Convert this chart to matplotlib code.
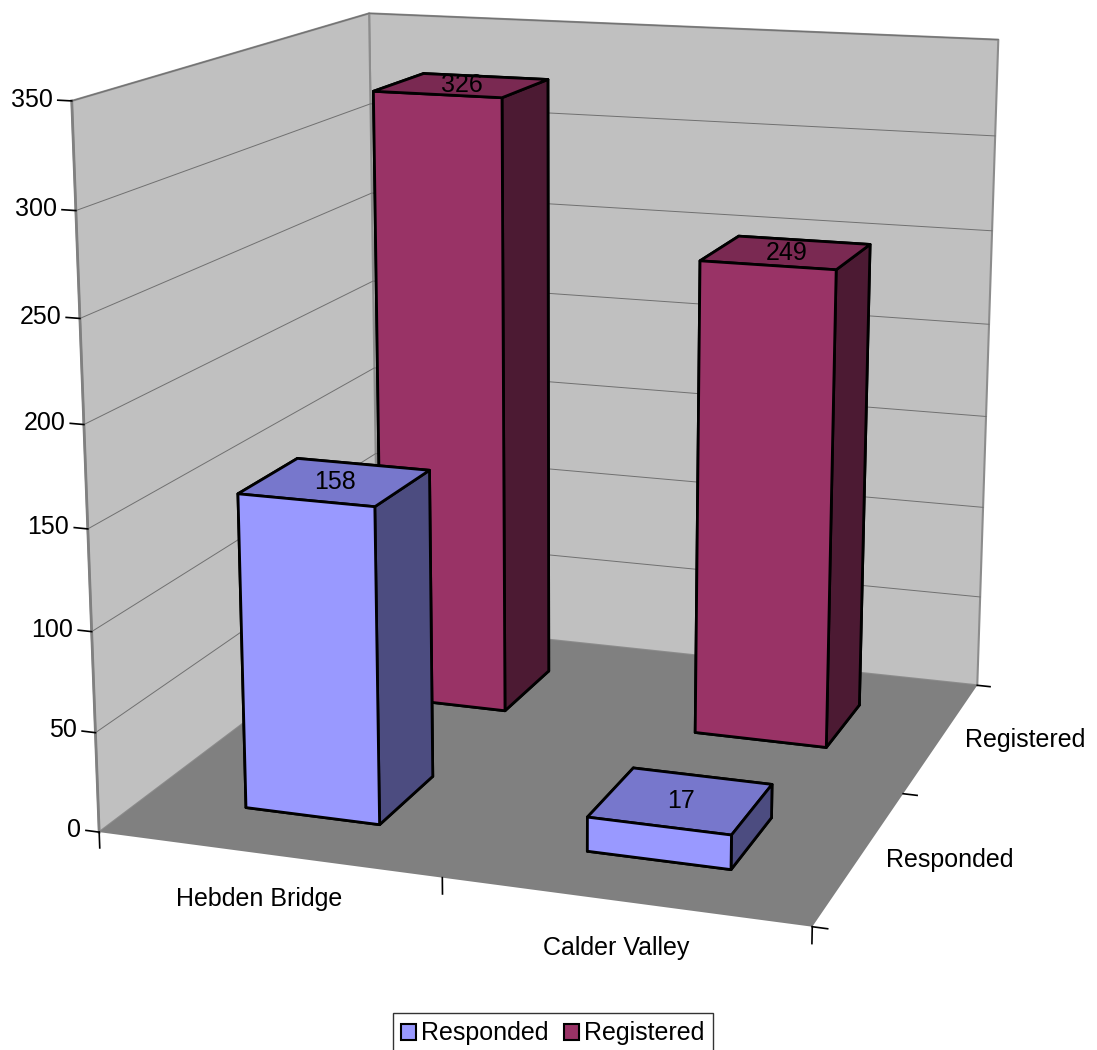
import numpy as np
import matplotlib
matplotlib.use('Agg')
import matplotlib.pyplot as plt
from matplotlib.patches import Patch
from mpl_toolkits.mplot3d.art3d import Poly3DCollection

# survey counts per area
categories = ['Hebden Bridge', 'Calder Valley']
series = ['Responded', 'Registered']
responded = [158, 17]
registered = [326, 249]
z_ticks = [0, 50, 100, 150, 200, 250, 300, 350]

plt.rcParams['font.family'] = ['Liberation Sans', 'DejaVu Sans']
fs = 18

front_cols = ['#9999ff', '#993366']
top_cols = ['#7777cc', '#7a2952']
side_cols = ['#4c4c80', '#4c1a33']

fig = plt.figure(figsize=(10.97, 10.5), dpi=100)
ax = fig.add_axes([-0.0397, 0.019, 1.083, 1.131], projection='3d')
ax.set_proj_type('persp', focal_length=0.5)
ax.view_init(elev=14, azim=-71)
ax.set_box_aspect((1, 1, 1))
ax.computed_zorder = False
ax.set_axis_off()
ax.set_xticks([])
ax.set_yticks([])
ax.set_zticks([])

nx, ny = len(categories), len(series)
zmax = z_ticks[-1]

# walls and floor of the chart box
left_wall = [(0, 0, 0), (0, ny, 0), (0, ny, zmax), (0, 0, zmax)]
back_wall = [(0, ny, 0), (nx, ny, 0), (nx, ny, zmax), (0, ny, zmax)]
floor = [(0, 0, 0), (nx, 0, 0), (nx, ny, 0), (0, ny, 0)]
ax.add_collection3d(Poly3DCollection([left_wall, back_wall], facecolors='#c0c0c0',
                                     edgecolors='#8c8c8c', linewidths=1.5, zorder=1))
ax.add_collection3d(Poly3DCollection([floor], facecolors='#808080',
                                     edgecolors='none', zorder=1))

# horizontal gridlines on the walls
for z in z_ticks[1:]:
    ax.plot([0, 0, nx], [0, ny, ny], [z, z, z], color='#707070', lw=0.7, zorder=2)

# value axis on the front left edge
ax.plot([0, 0], [0, 0], [0, zmax], color='#808080', lw=2, zorder=3)
for z in z_ticks:
    ax.plot([-0.04, 0], [0, 0], [z, z], color='black', lw=1.2, zorder=3)
    ax.text(-0.055, 0, z, str(z), ha='right', va='center', fontsize=fs, zorder=3)

# category axis along the front edge
for i in range(nx + 1):
    ax.plot([i, i], [0, 0], [0, -8], color='black', lw=1.2, zorder=3)
for i, c in enumerate(categories):
    ax.text(i + 0.5, -0.06, -18, c, ha='center', va='center', fontsize=fs, zorder=3)

# series axis along the right edge
for j in range(ny + 1):
    ax.plot([nx, nx + 0.04], [j, j], [0, 0], color='black', lw=1.2, zorder=3)
for j, s in enumerate(series):
    ax.text(nx + 0.07, j + 0.5, 0, s, ha='left', va='center', fontsize=fs, zorder=3)

# bars: face order is bottom, top, front, back, left, right
xs, ys, dzs, cols = [], [], [], []
for j, vals in enumerate([responded, registered]):
    for i, v in enumerate(vals):
        xs.append(i + 0.3)
        ys.append(j + 0.3)
        dzs.append(v)
        cols += [top_cols[j], top_cols[j], front_cols[j], front_cols[j],
                 side_cols[j], side_cols[j]]
ax.bar3d(xs, ys, np.zeros(len(xs)), 0.4, 0.4, dzs, color=cols, shade=False,
         edgecolor='black', linewidth=2, zorder=5)

for j, vals in enumerate([responded, registered]):
    for i, v in enumerate(vals):
        ax.text(i + 0.5, j + 0.5, v, str(v), ha='center', va='center',
                fontsize=fs, zorder=6)

ax.set_xlim(0, nx)
ax.set_ylim(0, ny)
ax.set_zlim(0, zmax)

handles = [Patch(facecolor=front_cols[j], edgecolor='black', linewidth=1.5, label=series[j])
           for j in range(len(series))]
leg = fig.legend(handles=handles, loc='lower center', bbox_to_anchor=(0.504, -0.004), ncol=2,
                 frameon=True, fancybox=False, edgecolor='black', fontsize=fs,
                 handlelength=0.6, handleheight=0.6, handletextpad=0.2,
                 columnspacing=0.6, borderpad=0.35, borderaxespad=0)
leg.get_frame().set_linewidth(1.0)

fig.savefig('out.png', dpi=100)
